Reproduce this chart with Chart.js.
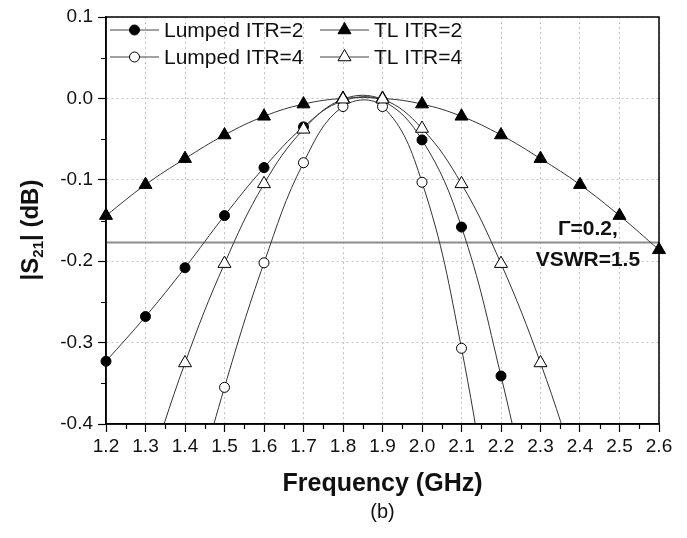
<!DOCTYPE html>
<html>
<head>
<meta charset="utf-8">
<script src="https://cdn.jsdelivr.net/npm/chart.js@4.4.0/dist/chart.umd.min.js"></script>
<style>
  html, body { margin: 0; padding: 0; background: #fff; }
  #wrap { width: 687px; height: 538px; }
</style>
</head>
<body>
<div id="wrap"><canvas id="myChart" width="687" height="538"></canvas></div>
<script>
// frequency points (GHz)
const freq = [1.2, 1.3, 1.4, 1.5, 1.6, 1.7, 1.8, 1.9, 2.0, 2.1, 2.2, 2.3, 2.4, 2.5, 2.6];

// |S21| in dB (values below -0.4 run off the frame)
const lumpedItr2 = [-0.323, -0.268, -0.208, -0.144, -0.085, -0.035, -0.003, -0.003, -0.051, -0.158, -0.341, -0.56, null, null, null];
const tlItr2     = [-0.144, -0.106, -0.074, -0.045, -0.022, -0.007, 0.0, 0.0, -0.007, -0.022, -0.045, -0.074, -0.106, -0.144, -0.186];
const lumpedItr4 = [null, null, -0.53, -0.355, -0.202, -0.079, -0.010, -0.010, -0.103, -0.307, -0.60, null, null, null, null];
const tlItr4     = [null, -0.47, -0.325, -0.203, -0.105, -0.038, -0.001, -0.001, -0.037, -0.105, -0.203, -0.325, -0.47, null, null];

// reflection level for Gamma = 0.2 (VSWR = 1.5)
const gammaLevel = -0.177;
const gammaLabel = ['\u0393=0.2,', 'VSWR=1.5'];

const FONT = "'Liberation Sans', Arial, sans-serif";

const toXY = arr => freq.map((f, i) => ({ x: f, y: arr[i] })).filter(p => p.y !== null);

const series = [
    { label: 'Lumped ITR=2', data: lumpedItr2, shape: 'circle', filled: true, order: 3 },
    { label: 'TL ITR=2', data: tlItr2, shape: 'triangle', filled: true, order: 2 },
    { label: 'Lumped ITR=4', data: lumpedItr4, shape: 'circle', filled: false, order: 1 },
    { label: 'TL ITR=4', data: tlItr4, shape: 'triangle', filled: false, order: 0 }
];

function drawMarker(ctx, shape, filled, x, y) {
    ctx.save();
    ctx.beginPath();
    if (shape === 'circle') {
        ctx.arc(x, y, 5, 0, Math.PI * 2);
    } else {
        const r = 7.5;
        ctx.moveTo(x, y - r);
        ctx.lineTo(x + r * 0.866, y + r / 2);
        ctx.lineTo(x - r * 0.866, y + r / 2);
        ctx.closePath();
    }
    ctx.fillStyle = filled ? '#000' : '#fff';
    ctx.fill();
    ctx.lineWidth = 1;
    ctx.strokeStyle = '#000';
    ctx.stroke();
    ctx.restore();
}

const decorations = {
    id: 'decorations',
    afterDraw(chart) {
        const { ctx, chartArea: a, scales: { x, y } } = chart;
        ctx.save();

        // minor ticks
        ctx.strokeStyle = '#000';
        ctx.lineWidth = 1.2;
        ctx.beginPath();
        for (let v = 1.25; v < 2.6; v += 0.1) {
            const px = Math.round(x.getPixelForValue(v)) + 0.5;
            ctx.moveTo(px, a.bottom);
            ctx.lineTo(px, a.bottom + 5);
        }
        for (let v = 0.05; v > -0.4; v -= 0.1) {
            const py = Math.round(y.getPixelForValue(v)) + 0.5;
            ctx.moveTo(a.left, py);
            ctx.lineTo(a.left - 5, py);
        }
        ctx.stroke();

        // frame
        ctx.lineWidth = 1.5;
        ctx.strokeRect(a.left, a.top, a.right - a.left, a.bottom - a.top);

        // legend (two columns, line + marker)
        ctx.font = '21px ' + FONT;
        ctx.textBaseline = 'middle';
        ctx.textAlign = 'left';
        const cols = [110, 320];
        const rows = [30, 57];
        series.forEach((s, i) => {
            const lx = cols[i % 2];
            const ly = rows[Math.floor(i / 2)];
            ctx.strokeStyle = '#444';
            ctx.lineWidth = 1;
            ctx.beginPath();
            ctx.moveTo(lx, ly);
            ctx.lineTo(lx + 49, ly);
            ctx.stroke();
            drawMarker(ctx, s.shape, s.filled, lx + 24.5, ly);
            ctx.fillStyle = '#111';
            ctx.fillText(s.label, lx + 54, ly + 1);
        });

        // gamma annotation
        ctx.font = 'bold 21px ' + FONT;
        ctx.textAlign = 'center';
        ctx.textBaseline = 'alphabetic';
        const ax = x.getPixelForValue(2.42);
        ctx.fillText(gammaLabel[0], ax, y.getPixelForValue(-0.168));
        ctx.fillText(gammaLabel[1], ax, y.getPixelForValue(-0.206));

        // x axis title and panel label
        ctx.font = 'bold 25px ' + FONT;
        ctx.textBaseline = 'middle';
        const cx = (a.left + a.right) / 2;
        ctx.fillText('Frequency (GHz)', cx, 484);
        ctx.font = '20px ' + FONT;
        ctx.fillText('(b)', cx, 512);

        // y axis title with subscript
        ctx.translate(38, 230);
        ctx.rotate(-Math.PI / 2);
        ctx.textAlign = 'left';
        ctx.textBaseline = 'alphabetic';
        const parts = [
            ['|S', 'bold 24px ' + FONT, 0],
            ['21', 'bold 15px ' + FONT, 5],
            ['| (dB)', 'bold 24px ' + FONT, 0]
        ];
        let total = 0;
        parts.forEach(p => { ctx.font = p[1]; total += ctx.measureText(p[0]).width; });
        let tx = -total / 2;
        parts.forEach(p => {
            ctx.font = p[1];
            ctx.fillText(p[0], tx, p[2]);
            tx += ctx.measureText(p[0]).width;
        });

        ctx.restore();
    }
};

const datasets = series.map(s => ({
    label: s.label,
    data: toXY(s.data),
    order: s.order,
    borderColor: '#333',
    borderWidth: 1,
    tension: 0.4,
    pointStyle: s.shape,
    pointRadius: s.shape === 'circle' ? 5 : 7.5,
    pointBackgroundColor: s.filled ? '#000' : '#fff',
    pointBorderColor: '#000',
    pointBorderWidth: 1,
    clip: { left: 10, right: 10, top: 0, bottom: 0 }
}));

datasets.push({
    label: 'gamma',
    data: [{ x: freq[0], y: gammaLevel }, { x: freq[freq.length - 1], y: gammaLevel }],
    order: 5,
    borderColor: '#8c8c8c',
    borderWidth: 1.8,
    pointRadius: 0,
    tension: 0
});

const ctx = document.getElementById('myChart').getContext('2d');
new Chart(ctx, {
    type: 'line',
    data: { datasets },
    options: {
        responsive: false,
        animation: false,
        layout: { padding: { left: 0, right: 28, top: 17, bottom: 0 } },
        elements: { line: { capBezierPoints: false } },
        plugins: {
            legend: { display: false },
            tooltip: { enabled: false }
        },
        scales: {
            x: {
                type: 'linear',
                min: 1.2,
                max: 2.6,
                afterFit: s => { s.height = 114; },
                ticks: {
                    stepSize: 0.1,
                    padding: 3,
                    color: '#111',
                    font: { family: FONT, size: 19 },
                    maxRotation: 0,
                    autoSkip: false,
                    callback: v => v.toFixed(1)
                },
                grid: {
                    color: '#c4c4c4',
                    lineWidth: 1,
                    tickColor: '#000',
                    tickLength: 8,
                    tickWidth: 1.2
                },
                border: { color: '#000', width: 1.5, dash: [2, 3] }
            },
            y: {
                min: -0.4,
                max: 0.1,
                afterFit: s => { s.width = 106; },
                ticks: {
                    stepSize: 0.1,
                    padding: 5,
                    color: '#111',
                    font: { family: FONT, size: 19 },
                    callback: v => v.toFixed(1)
                },
                grid: {
                    color: '#c4c4c4',
                    lineWidth: 1,
                    tickColor: '#000',
                    tickLength: 8,
                    tickWidth: 1.2
                },
                border: { color: '#000', width: 1.5, dash: [2, 3] }
            }
        }
    },
    plugins: [decorations]
});
</script>
</body>
</html>
